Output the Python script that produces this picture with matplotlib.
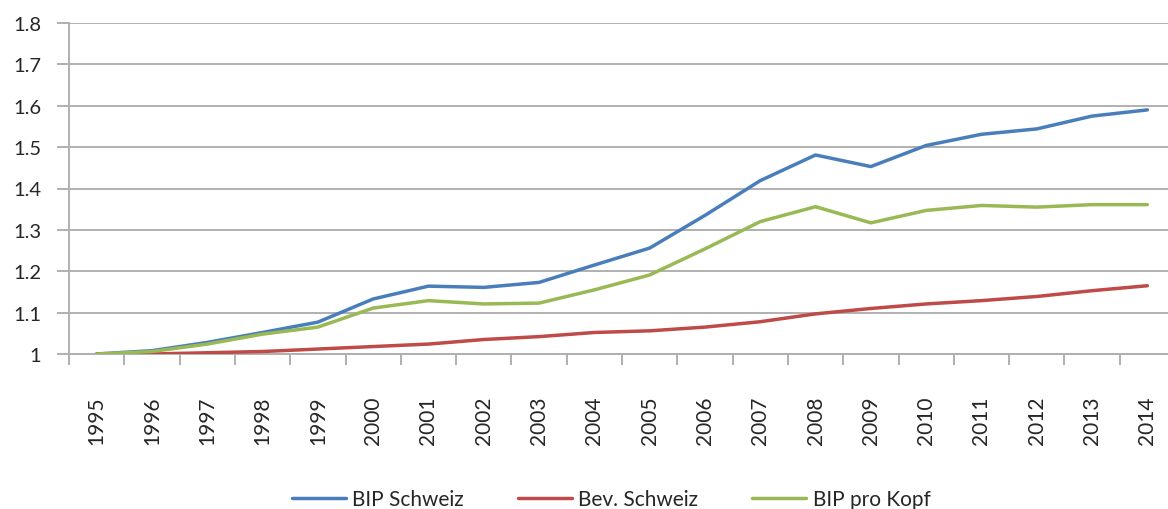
import matplotlib
matplotlib.use("Agg")
import matplotlib.pyplot as plt
import numpy as np

years = [str(y) for y in range(1995, 2015)]
bip_schweiz = [1.000, 1.008, 1.028, 1.052, 1.077, 1.133, 1.164, 1.161, 1.173, 1.215,
               1.256, 1.335, 1.419, 1.481, 1.453, 1.504, 1.531, 1.544, 1.575, 1.590]
bev_schweiz = [1.000, 1.000, 1.003, 1.006, 1.012, 1.018, 1.024, 1.035, 1.042, 1.052,
               1.056, 1.065, 1.078, 1.097, 1.110, 1.121, 1.129, 1.139, 1.153, 1.165]
bip_pro_kopf = [1.000, 1.006, 1.024, 1.048, 1.065, 1.111, 1.129, 1.121, 1.123, 1.155,
                1.191, 1.254, 1.320, 1.356, 1.317, 1.347, 1.359, 1.355, 1.361, 1.361]
series_names = ["BIP Schweiz", "Bev. Schweiz", "BIP pro Kopf"]
colors = ["#4A7EBB", "#BE4B48", "#98B954"]
yticks = [1.0, 1.1, 1.2, 1.3, 1.4, 1.5, 1.6, 1.7, 1.8]
ytick_labels = ["1", "1.1", "1.2", "1.3", "1.4", "1.5", "1.6", "1.7", "1.8"]

plt.rcParams['font.family'] = ['Lato', 'DejaVu Sans']

W, H = 1168, 510
fig = plt.figure(figsize=(W / 100, H / 100), dpi=100)
left, right, top, bottom = 69, 1175, 24, 355
ax = fig.add_axes([left / W, 1 - bottom / H, (right - left) / W, (bottom - top) / H])

x = np.arange(len(years))
handles = []
for vals, name, c in zip([bip_schweiz, bev_schweiz, bip_pro_kopf], series_names, colors):
    h, = ax.plot(x, vals, color=c, lw=2.5, label=name, solid_capstyle='round', zorder=3)
    handles.append(h)

ax.set_xlim(-0.5, len(years) - 0.5)
ax.set_ylim(1.0, 1.8)
ax.set_yticks(yticks)
ax.set_yticklabels(ytick_labels, fontsize=14.5, color='#262626')
grid_c = '#b0b0b0'
ax.yaxis.grid(True, color=grid_c, lw=1.4, zorder=0)
ax.tick_params(axis='y', length=9, width=1.4, color=grid_c, pad=11)

ax.set_xticks(x)
ax.set_xticklabels(years, rotation=90, fontsize=15, color='#262626')
ax.set_xticks(np.arange(-0.5, len(years)), minor=True)
ax.tick_params(axis='x', which='major', length=0, pad=30)
ax.tick_params(axis='x', which='minor', length=8, width=1.4, color=grid_c)

for s in ['right', 'top']:
    ax.spines[s].set_visible(False)
for s in ['bottom', 'left']:
    ax.spines[s].set_color(grid_c)
    ax.spines[s].set_linewidth(1.4)
ax.set_axisbelow(True)

fig.legend(handles=handles, loc='center', bbox_to_anchor=(611 / W, 1 - 500 / H), ncol=3,
           frameon=False, fontsize=15, handlelength=2.6, handletextpad=0.3,
           columnspacing=2.6, labelcolor='#262626')

fig.savefig("out.png", dpi=100, facecolor='white')
